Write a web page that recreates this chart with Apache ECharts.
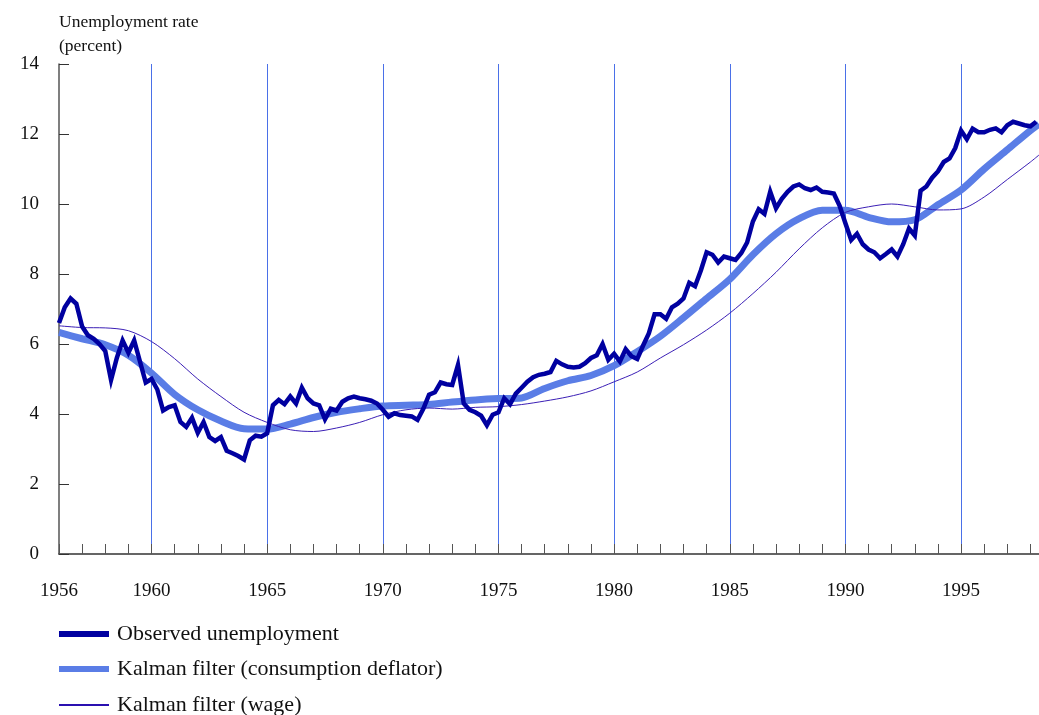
<!DOCTYPE html>
<html>
	<head>
		<meta charset="utf-8">
		<title>Unemployment rate</title>
		<script src="https://cdn.jsdelivr.net/npm/echarts@6/dist/echarts.min.js" type="text/javascript" charset="utf-8"></script>
		<style>
			html, body { margin: 0; padding: 0; background: #fff; }
			#chart { width: 1039px; height: 715px; }
		</style>
	</head>
	<body>
		<div id="chart"></div>
		<script type="text/javascript">
			// 观测失业率，季度数据，1956Q1 起
			var startYear = 1956;
			var observed = [
				6.6, 7.05, 7.3, 7.15, 6.5, 6.25, 6.15, 6.0, 5.8, 4.97,
				5.6, 6.1, 5.75, 6.1, 5.5, 4.9, 5.0, 4.7, 4.1, 4.2,
				4.25, 3.77, 3.63, 3.89, 3.46, 3.77, 3.34, 3.23, 3.34, 2.95,
				2.88, 2.8, 2.7, 3.25, 3.38, 3.35, 3.45, 4.25, 4.4, 4.28,
				4.5, 4.3, 4.75, 4.45, 4.3, 4.25, 3.85, 4.15, 4.1, 4.35,
				4.45, 4.5, 4.45, 4.42, 4.38, 4.3, 4.12, 3.92, 4.02, 3.97,
				3.95, 3.93, 3.83, 4.15, 4.55, 4.62, 4.9, 4.85, 4.83, 5.4,
				4.3, 4.12, 4.05, 3.95, 3.68, 3.98, 4.05, 4.45, 4.28, 4.58,
				4.75, 4.92, 5.05, 5.12, 5.15, 5.2, 5.52, 5.42, 5.35, 5.33,
				5.35, 5.45, 5.6, 5.68, 6.0, 5.55, 5.72, 5.5, 5.85, 5.65,
				5.57, 5.95, 6.3, 6.85, 6.85, 6.72, 7.05, 7.15, 7.3, 7.75,
				7.65, 8.1, 8.62, 8.55, 8.33, 8.5, 8.45, 8.4, 8.6, 8.9,
				9.5, 9.85, 9.72, 10.35, 9.88, 10.15, 10.35, 10.5, 10.56, 10.45,
				10.4, 10.47, 10.35, 10.33, 10.3, 9.95, 9.45, 8.97, 9.15, 8.85,
				8.7, 8.62, 8.45, 8.57, 8.7, 8.5, 8.85, 9.3, 9.1, 10.38,
				10.5, 10.75, 10.93, 11.2, 11.3, 11.6, 12.1, 11.85, 12.15, 12.05,
				12.05, 12.12, 12.16, 12.05, 12.25, 12.35, 12.3, 12.25, 12.22, 12.35
			];
			// 卡尔曼滤波估计（年度读数）
			var kalmanYears = [
				1956, 1957, 1958, 1959, 1960, 1961, 1962, 1963, 1964, 1965,
				1966, 1967, 1968, 1969, 1970, 1971, 1972, 1973, 1974, 1975,
				1976, 1977, 1978, 1979, 1980, 1981, 1982, 1983, 1984, 1985,
				1986, 1987, 1988, 1989, 1990, 1991, 1992, 1993, 1994, 1995,
				1996, 1997, 1998, 1998.37
			];
			var kalmanCons = [
				6.33, 6.15, 5.98, 5.68, 5.17, 4.56, 4.12, 3.8, 3.58, 3.57,
				3.71, 3.9, 4.05, 4.15, 4.23, 4.25, 4.27, 4.34, 4.4, 4.44,
				4.46, 4.73, 4.95, 5.1, 5.38, 5.78, 6.22, 6.75, 7.3, 7.85,
				8.55, 9.15, 9.58, 9.82, 9.82, 9.62, 9.49, 9.55, 9.98, 10.4,
				11.0, 11.55, 12.1, 12.28
			];
			var kalmanWage = [
				6.52, 6.47, 6.46, 6.38, 6.07, 5.58, 5.0, 4.5, 4.05, 3.76,
				3.55, 3.5, 3.6, 3.76, 3.98, 4.12, 4.17, 4.14, 4.19, 4.21,
				4.27, 4.37, 4.49, 4.66, 4.92, 5.2, 5.6, 5.98, 6.4, 6.88,
				7.44, 8.05, 8.72, 9.32, 9.76, 9.92, 10.0, 9.92, 9.83, 9.86,
				10.2, 10.7, 11.2, 11.4
			];
			var seriesNames = ['Observed unemployment', 'Kalman filter (consumption deflator)', 'Kalman filter (wage)'];
			var colors = ['#0000a0', '#5a7de6', '#2a10b0'];
			var noLine = 'rgba(0,0,0,0)';

			var fontFam = 'Liberation Serif';
			function pairs(xs, ys){
				var out = [];
				for(var i = 0; i < ys.length; i++){
					out.push([xs[i], ys[i]]);
				}
				return out;
			}
			var obsData = [];
			for(var i = 0; i < observed.length; i++){
				obsData.push([startYear + i / 4, observed[i]]);
			}
			// 每个图例单独一行，图标粗细不同
			function legendRow(idx, top, h){
				return {
					orient: 'vertical',
					left: 54,
					top: top,
					icon: 'rect',
					itemWidth: 50,
					itemHeight: h,
					selectedMode: false,
					textStyle: {fontFamily: fontFam, fontSize: 22, color: '#111', padding: [0, 0, 0, 3]},
					data: [{name: seriesNames[idx], itemStyle: {color: colors[idx]}}]
				};
			}

			var myChart = echarts.init(document.getElementById('chart'), null, {renderer: 'canvas'});
			var option = {
				animation: false,
				title: {
					text: 'Unemployment rate\n(percent)',
					left: 54,
					top: 5,
					textStyle: {fontFamily: fontFam, fontSize: 17.5, fontWeight: 'normal', color: '#111', lineHeight: 24}
				},
				legend: [
					legendRow(0, 618, 6),
					legendRow(1, 653, 6),
					legendRow(2, 689, 2)
				],
				grid: {left: 59, right: 0, top: 64, bottom: 161, containLabel: false},
				xAxis: {
					type: 'value',
					min: 1956,
					max: 1998.37,
					interval: 1,
					axisLine: {lineStyle: {color: '#333', width: 1.5}},
					axisTick: {inside: true, length: 10, lineStyle: {color: '#555'}},
					axisLabel: {
						margin: 28,
						fontFamily: fontFam,
						fontSize: 19,
						color: '#111',
						showMaxLabel: false,
						formatter: function(v){
							return (v === 1956 || v % 5 === 0) ? String(v) : '';
						}
					},
					// 每五年一条竖线（1960, 1965 ...）
					splitLine: {
						show: true,
						lineStyle: {color: [noLine, noLine, noLine, noLine, '#4a70e8'], width: 1}
					}
				},
				yAxis: {
					type: 'value',
					min: 0,
					max: 14,
					interval: 2,
					axisLine: {show: true, lineStyle: {color: '#555', width: 1.5}},
					axisTick: {show: true, inside: true, length: 10, lineStyle: {color: '#333'}},
					axisLabel: {margin: 20, fontFamily: fontFam, fontSize: 19, color: '#111'},
					splitLine: {show: false}
				},
				series: [
					{
						name: seriesNames[1],
						type: 'line',
						data: pairs(kalmanYears, kalmanCons),
						smooth: 0.3,
						symbol: 'none',
						z: 2,
						lineStyle: {color: colors[1], width: 7},
						itemStyle: {color: colors[1]}
					},
					{
						name: seriesNames[2],
						type: 'line',
						data: pairs(kalmanYears, kalmanWage),
						smooth: 0.3,
						symbol: 'none',
						z: 3,
						lineStyle: {color: '#3b1fb5', width: 1},
						itemStyle: {color: colors[2]}
					},
					{
						name: seriesNames[0],
						type: 'line',
						data: obsData,
						symbol: 'none',
						z: 4,
						lineStyle: {color: colors[0], width: 4.5, join: 'miter'},
						itemStyle: {color: colors[0]}
					}
				]
			};
			myChart.setOption(option);
		</script>
	</body>
</html>
